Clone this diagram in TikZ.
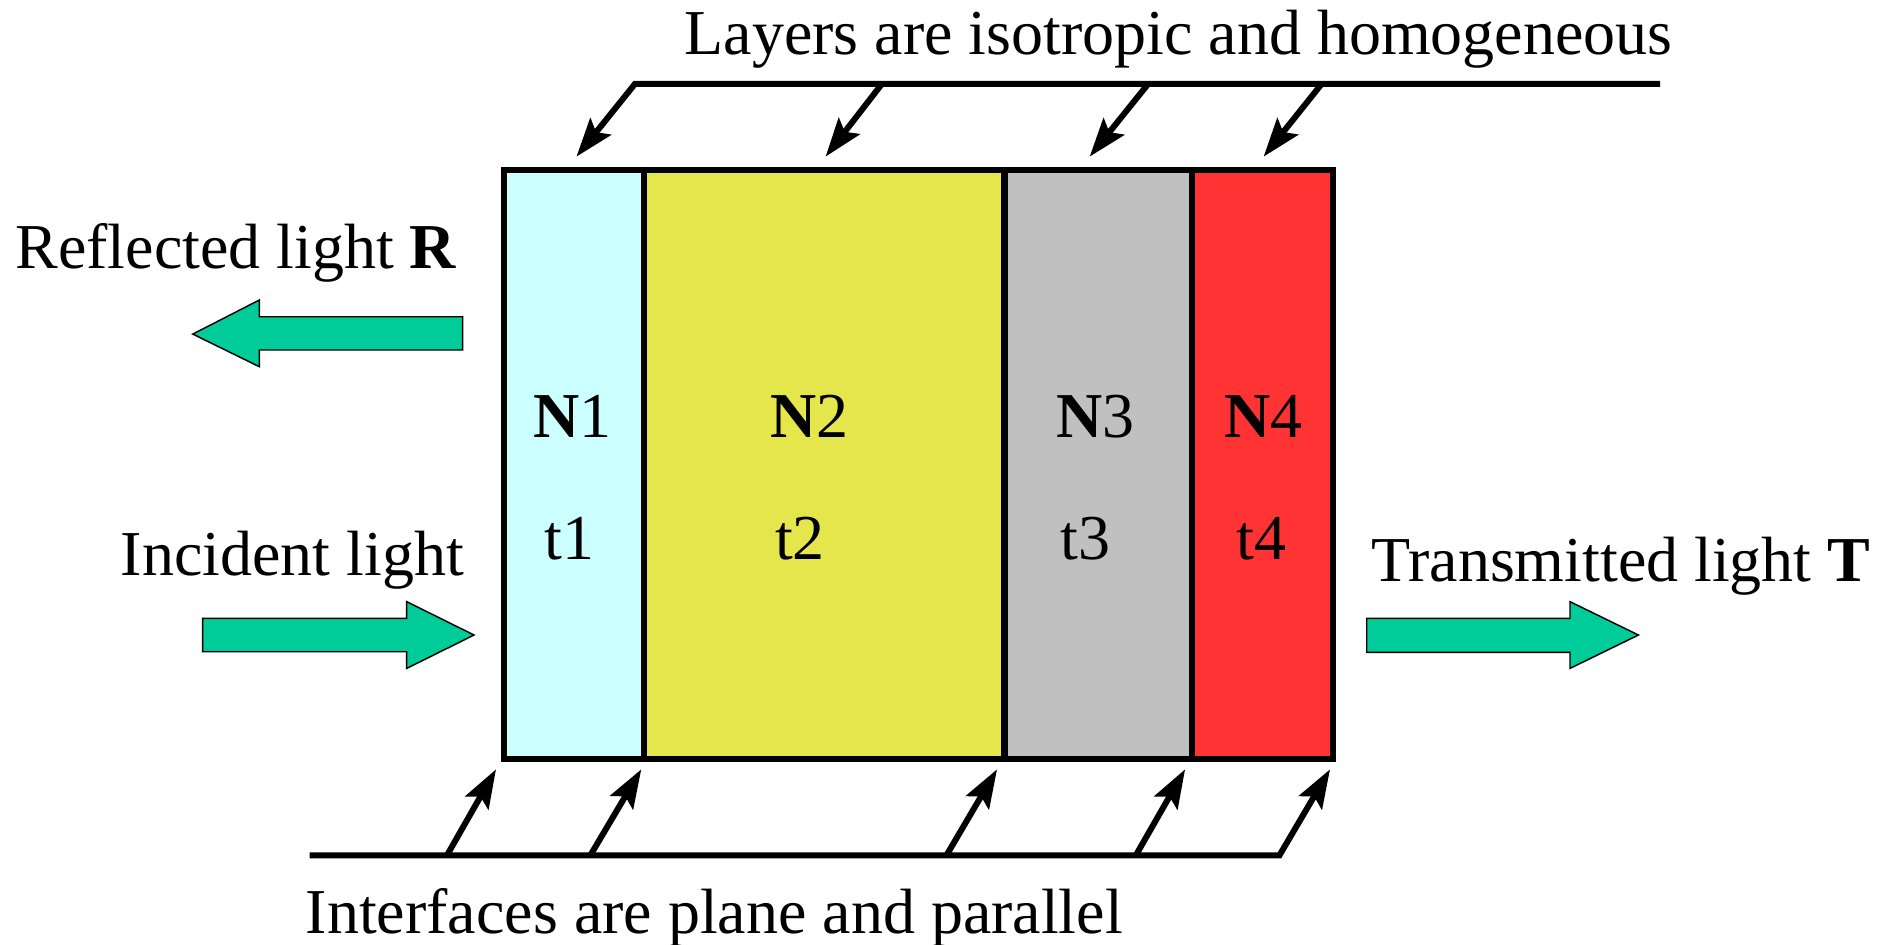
\documentclass[tikz,border=0pt]{standalone}
\usepackage{fontspec}
\setmainfont{Liberation Serif}
\usetikzlibrary{arrows.meta}
\definecolor{layercyan}{HTML}{CCFFFF}
\definecolor{layeryellow}{HTML}{E5E54C}
\definecolor{layergray}{HTML}{C0C0C0}
\definecolor{layerred}{HTML}{FF3333}
\definecolor{beamgreen}{HTML}{00CC99}
\tikzset{
  lbl/.style={anchor=base west, inner sep=0pt},
  layerlbl/.style={anchor=base, inner sep=0pt},
  pointer/.style={line width=2.5pt, line join=miter,
    -{Stealth[length=16pt,width=11pt,inset=3pt]}},
  guide/.style={line width=2.75pt},
  beam/.style={fill=beamgreen, draw=black, line width=0.6pt, line join=miter},
  frame/.style={line width=2.75pt, line join=miter},
}
\begin{document}
\begin{tikzpicture}[x=0.5pt,y=-0.5pt,font=\fontsize{26.55}{32}\selectfont]
\useasboundingbox (0,0) rectangle (1568,784);

% layer boundaries
\coordinate (TL) at (418.5,141);  \coordinate (BL) at (418.5,630);
\coordinate (T1) at (534.5,141);  \coordinate (B1) at (534.5,630);
\coordinate (T2) at (834,141);    \coordinate (B2) at (834,630);
\coordinate (T3) at (989.5,141);  \coordinate (B3) at (989.5,630);
\coordinate (TR) at (1106.5,141); \coordinate (BR) at (1106.5,630);

% layers
\fill[layercyan]   (TL) rectangle (B1);
\fill[layeryellow] (T1) rectangle (B2);
\fill[layergray]   (T2) rectangle (B3);
\fill[layerred]    (T3) rectangle (BR);
\draw[frame] (TL) rectangle (BR);
\draw[frame] (T1) -- (B1) (T2) -- (B2) (T3) -- (B3);

% layer labels
\node[layerlbl] (n1) at (475,363) {\textbf{N}1};
\node[layerlbl] (n2) at (672,363) {\textbf{N}2};
\node[layerlbl] (n3) at (909,363) {\textbf{N}3};
\node[layerlbl] (n4) at (1049,363) {\textbf{N}4};
\node[layerlbl] (d1) at (473,464) {t1};
\node[layerlbl] (d2) at (664,464) {t2};
\node[layerlbl] (d3) at (901,464) {t3};
\node[layerlbl] (d4) at (1047,464) {t4};

% top callout: layers
\node[lbl] (toptext) at (568,45) {Layers are isotropic and homogeneous};
\coordinate (ta0) at (1378,69.7);
\coordinate (ta1) at (527,69.7);  \coordinate (tt1) at (478.5,130);
\coordinate (ta2) at (732,69.7);  \coordinate (tt2) at (685.3,130);
\coordinate (ta3) at (953,69.7);  \coordinate (tt3) at (904.5,130);
\coordinate (ta4) at (1097,69.7); \coordinate (tt4) at (1048.9,130);
\draw[pointer] (ta0) -- (ta1) -- (tt1);
\draw[pointer] (ta2) -- (tt2);
\draw[pointer] (ta3) -- (tt3);
\draw[pointer] (ta4) -- (tt4);

% bottom callout: interfaces
\node[lbl] (bottext) at (253.5,775) {Interfaces are plane and parallel};
\coordinate (ba0) at (257,710);
\coordinate (ba1) at (371,710);   \coordinate (bt1) at (411.7,638.6);
\coordinate (ba2) at (490,710);   \coordinate (bt2) at (532.3,638.6);
\coordinate (ba3) at (785.6,710); \coordinate (bt3) at (827.6,638.6);
\coordinate (ba4) at (942.8,710); \coordinate (bt4) at (983.7,638.6);
\coordinate (ba5) at (1062,710);  \coordinate (bt5) at (1104,638.6);
\draw[pointer] (ba0) -- (ba5) -- (bt5);
\draw[pointer] (ba1) -- (bt1);
\draw[pointer] (ba2) -- (bt2);
\draw[pointer] (ba3) -- (bt3);
\draw[pointer] (ba4) -- (bt4);

% light beams
\node[lbl] (reftext) at (12.5,222.7) {Reflected light \textbf{R}};
\draw[beam] (384,262.9) -- (215.3,262.9) -- (215.3,249) -- (160,277.3)
  -- (215.3,304.4) -- (215.3,290.5) -- (384,290.5) -- cycle;

\node[lbl] (inctext) at (100,477.3) {Incident light};
\draw[beam] (168.2,513.3) -- (337.6,513.3) -- (337.6,499.4) -- (393.5,527.1)
  -- (337.6,554.8) -- (337.6,541) -- (168.2,541) -- cycle;

\node[lbl] (tratext) at (1138,482.8) {Transmitted light \textbf{T}};
\draw[beam] (1134.5,513.3) -- (1303.2,513.3) -- (1303.2,499.4) -- (1360,527.1)
  -- (1303.2,554.8) -- (1303.2,541.5) -- (1134.5,541.5) -- cycle;
\end{tikzpicture}
\end{document}
